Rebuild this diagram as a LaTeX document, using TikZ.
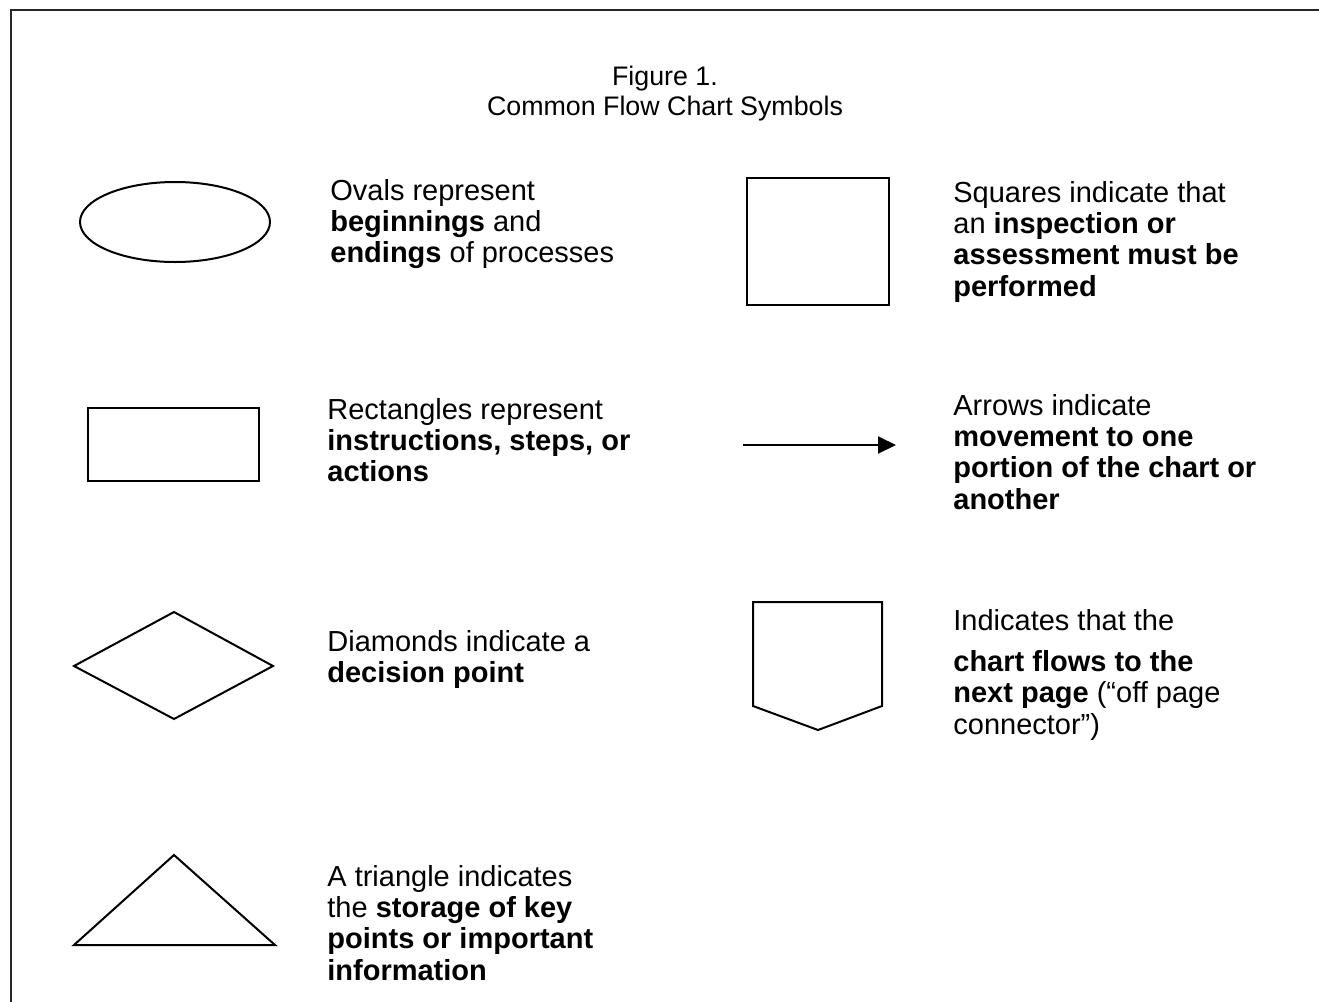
\documentclass[tikz,border=0pt]{standalone}
\usepackage{fontspec}
\setmainfont{Liberation Sans}
\usetikzlibrary{arrows.meta}

\begin{document}
\begin{tikzpicture}[x=0.5pt, y=-0.5pt,
    symbol/.style={black, line width=1pt, line join=miter},
    legend/.style={anchor=north west, inner sep=0pt, align=left,
      font=\fontsize{14.5}{15.6}\selectfont},
  ]
  \useasboundingbox (0,0) rectangle (1319,1002);

  % Marco
  \draw[black!85, line width=1.4pt] (11,1002) -- (11,10) -- (1319,10);

  % Titulo
  \node[legend, anchor=north, align=center, font=\fontsize{13.4}{15}\selectfont] (title) at (665,66)
    {Figure 1.\\Common Flow Chart Symbols};

  % Ovalo
  \draw[symbol] (175,222) ellipse (95 and 40);
  \node[legend] (ovaltext) at (330,179)
    {Ovals represent\\\textbf{beginnings} and\\\textbf{endings} of processes};

  % Rectangulo
  \draw[symbol] (88,408) rectangle (259,481);
  \node[legend] (recttext) at (327,398)
    {Rectangles represent\\\textbf{instructions, steps, or}\\\textbf{actions}};

  % Rombo
  \draw[symbol] (74,666) -- (174,612) -- (273,666) -- (174,719) -- cycle;
  \node[legend] (diamtext) at (327,630)
    {Diamonds indicate a\\\textbf{decision point}};

  % Triangulo
  \draw[symbol] (74,945) -- (174,855) -- (275,945) -- cycle;
  \node[legend] (tritext) at (327,865)
    {A triangle indicates\\the \textbf{storage of key}\\\textbf{points or important}\\\textbf{information}};

  % Cuadrado
  \draw[symbol] (747,178) rectangle (889,305);
  \node[legend] (squaretext) at (953,181)
    {Squares indicate that\\an \textbf{inspection or}\\\textbf{assessment must be}\\\textbf{performed}};

  % Flecha
  \coordinate (arrowstart) at (743,445);
  \coordinate (arrowend) at (896,445);
  \draw[symbol, -{Triangle[length=9pt, width=8.5pt]}] (arrowstart) -- (arrowend);
  \node[legend] (arrowtext) at (953,394)
    {Arrows indicate\\\textbf{movement to one}\\\textbf{portion of the chart or}\\\textbf{another}};

  % Conector fuera de pagina
  \draw[symbol] (753,602) -- (882,602) -- (882,706) -- (818,730) -- (753,706) -- cycle;
  \node[legend] (pagetext) at (953,609)
    {Indicates that the\\[5pt]\textbf{chart flows to the}\\\textbf{next page} (``off page\\connector'')};
\end{tikzpicture}
\end{document}
